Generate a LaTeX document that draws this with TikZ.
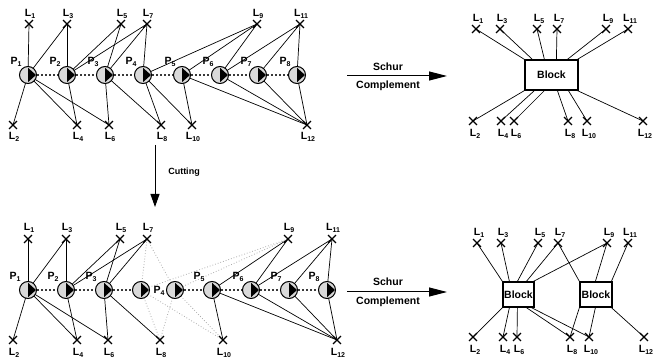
\documentclass[tikz,border=0pt]{standalone}
\usepackage{fontspec}
\setmainfont{Liberation Sans}
\usetikzlibrary{shapes.misc,arrows.meta,calc,backgrounds}
\newcommand\lsub[1]{\raisebox{-0.45ex}{\fontsize{7}{7}\selectfont #1}}
\begin{document}
\begin{tikzpicture}[x=1pt,y=-1pt,
  font=\fontsize{10.5}{11}\selectfont\bfseries,
  pose/.style={circle, minimum size=17pt, inner sep=0pt, fill=gray!30, draw=black, line width=1pt,
    path picture={\fill[black] ($(path picture bounding box.center)+(0,-7.2)$) -- ($(path picture bounding box.center)+(0,7.2)$) -- ($(path picture bounding box.center)+(8,0)$) -- cycle;}},
  lm/.style={cross out, draw=black, line width=1.3pt, minimum size=6.5pt, inner sep=0pt},
  edge/.style={line width=0.7pt, draw=black},
  chain/.style={draw=gray!45!black, line width=1.3pt, dash pattern=on 2pt off 2pt},
  cutedge/.style={draw=gray!65, line width=0.8pt, dotted},
  blockbox/.style={draw=black, line width=1.2pt, inner sep=0pt, fill=white},
  lab/.style={inner sep=0pt},
  bigarrow/.style={line width=1pt, -{Triangle[length=18pt,width=9pt]}},
  cutarrow/.style={line width=1pt, -{Triangle[length=13pt,width=9pt]}}]
\useasboundingbox (0,0) rectangle (653,363);

% ---------------- top left ----------------
\foreach \n/\x in {1/28,2/67,3/105,4/143,5/182,6/220,7/258,8/297}{
  \node[pose] (p\n) at (\x,75) {};
  \node[lab] (p\n t) at (\x-12,62) {P\lsub{\n}};
}
\foreach \n/\x in {1/29,3/67,5/121,7/147,9/257,11/300}{
  \node[lm] (a\n) at (\x,24) {};
  \node[lab] (a\n t) at (\x+1,14) {L\lsub{\n}};
}
\foreach \n/\x in {2/13,4/77,6/109,8/161,10/192,12/307}{
  \node[lm] (a\n) at (\x,125) {};
  \node[lab] (a\n t) at (\x+1,137) {L\lsub{\n}};
}
\begin{scope}[on background layer]
\foreach \p/\l in {1/1,1/3,1/2,1/4,1/6, 2/3,2/5,2/7,2/4, 3/5,3/7,3/6,3/8, 4/7,4/9,4/8,4/10, 5/9,5/10,5/12, 6/9,6/11,6/12, 7/11,7/12, 8/11,8/12}
  \draw[edge] (p\p.center) -- (a\l.center);
\foreach \i/\j in {1/2,2/3,3/4,4/5,5/6,6/7,7/8}
  \draw[chain] (p\i) -- (p\j);
\end{scope}

% ---------------- bottom left ----------------
\foreach \n/\x in {1/28,2/66,3/104,5/212,6/251,7/289,8/327}{
  \node[pose] (q\n) at (\x,290) {};
  \node[lab] (q\n t) at (\x-13,277) {P\lsub{\n}};
}
\node[pose] (q4a) at (141,290) {};
\node[pose] (q4b) at (175,290) {};
\node[lab] (q4t) at (159,291) {P\lsub{4}};
\foreach \n/\x in {1/28,3/66,5/120,7/147,9/288,11/332}{
  \node[lm] (b\n) at (\x,239) {};
  \node[lab] (b\n t) at (\x+1,228) {L\lsub{\n}};
}
\foreach \n/\x in {2/13,4/77,6/108,8/160,10/223,12/337}{
  \node[lm] (b\n) at (\x,340) {};
  \node[lab] (b\n t) at (\x+1,353) {L\lsub{\n}};
}
\begin{scope}[on background layer]
\foreach \p/\l in {1/1,1/3,1/2,1/4,1/6, 2/3,2/5,2/7,2/4, 3/5,3/7,3/6,3/8, 5/9,5/10,5/12, 6/9,6/11,6/12, 7/11,7/12, 8/11,8/12}
  \draw[edge] (q\p.center) -- (b\l.center);
\foreach \p in {4a,4b}
  \foreach \l in {7,9,8,10}
    \draw[cutedge] (q\p.center) -- (b\l.center);
\foreach \i/\j in {1/2,2/3,3/4a,4b/5,5/6,6/7,7/8}
  \draw[chain] (q\i) -- (q\j);
\end{scope}

% ---------------- cutting arrow ----------------
\coordinate (cutS) at (155,145);
\coordinate (cutE) at (155,207);
\draw[cutarrow] (cutS) -- (cutE);
\node[lab, font=\fontsize{9}{10}\selectfont\bfseries] (cutlab) at (184,172) {Cutting};

% ---------------- Schur arrows ----------------
\coordinate (s1S) at (347,76);
\coordinate (s1E) at (447,76);
\draw[bigarrow] (s1S) -- (s1E);
\node[lab] (s1a) at (388,67) {Schur};
\node[lab] (s1b) at (388,86) {Complement};

\coordinate (s2S) at (347,292);
\coordinate (s2E) at (447,292);
\draw[bigarrow] (s2S) -- (s2E);
\node[lab] (s2a) at (388,282) {Schur};
\node[lab] (s2b) at (388,302) {Complement};

% ---------------- top right ----------------
\node[blockbox, minimum width=53pt, minimum height=30pt] (blk) at (551.5,75) {Block};
\foreach \n/\x in {1/476,3/500,5/537,7/557,9/606,11/628}{
  \node[lm] (c\n) at (\x,29) {};
  \node[lab] (c\n t) at (\x+2,19) {L\lsub{\n}};
}
\foreach \n/\x in {2/473,4/501,6/514,8/568,10/587,12/643}{
  \node[lm] (c\n) at (\x,121) {};
  \node[lab] (c\n t) at (\x+2,134) {L\lsub{\n}};
}
\begin{scope}[on background layer]
\foreach \l/\d in {1/0,3/8,5/20,7/32,9/43,11/53}
  \draw[edge] (c\l.center) -- ($(blk.north west)+(\d,0)$);
\foreach \l/\d in {2/0,4/10,6/20,8/33,10/44,12/53}
  \draw[edge] (c\l.center) -- ($(blk.south west)+(\d,0)$);
\end{scope}

% ---------------- bottom right ----------------
\node[blockbox, minimum width=31pt, minimum height=25pt] (bA) at (518.5,294.5) {Block};
\node[blockbox, minimum width=32pt, minimum height=25pt] (bB) at (596,294.5) {Block};
\foreach \n/\x in {1/477,3/501,5/538,7/558,9/607,11/628}{
  \node[lm] (d\n) at (\x,243) {};
  \node[lab] (d\n t) at (\x+2,233) {L\lsub{\n}};
}
\foreach \n/\x in {2/473,4/503,6/517,8/570,10/589,12/644}{
  \node[lm] (d\n) at (\x,337) {};
  \node[lab] (d\n t) at (\x+2,350) {L\lsub{\n}};
}
\begin{scope}[on background layer]
\foreach \l/\d in {1/0,3/7,5/15,7/24,9/31}
  \draw[edge] (d\l.center) -- ($(bA.north west)+(\d,0)$);
\foreach \l/\d in {2/0,4/7,6/15,8/24,10/29}
  \draw[edge] (d\l.center) -- ($(bA.south west)+(\d,0)$);
\foreach \l/\d in {7/0,9/16,11/32}
  \draw[edge] (d\l.center) -- ($(bB.north west)+(\d,0)$);
\foreach \l/\d in {8/0,10/16,12/32}
  \draw[edge] (d\l.center) -- ($(bB.south west)+(\d,0)$);
\end{scope}
\end{tikzpicture}
\end{document}
